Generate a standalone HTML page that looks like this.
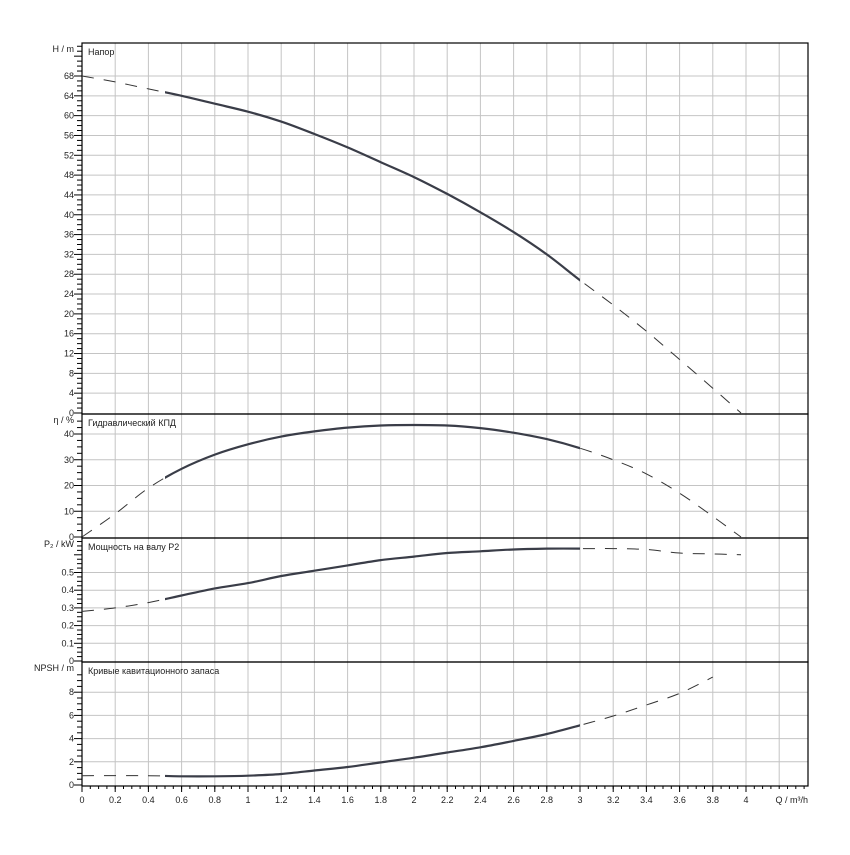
<!DOCTYPE html>
<html><head><meta charset="utf-8"><style>
body{margin:0;background:#fff}
svg{font-family:"Liberation Sans",sans-serif;font-size:9px}
</style></head><body>
<svg id="c" width="850" height="850"></svg>
<script>
const qVals=[0,0.2,0.4,0.6,0.8,1,1.2,1.4,1.6,1.8,2,2.2,2.4,2.6,2.8,3,3.2,3.4,3.6,3.8,3.97];
const headVals=[68,66.8,65.4,64,62.4,60.8,58.8,56.3,53.6,50.6,47.6,44.2,40.5,36.5,32,26.8,21.8,16.5,10.8,5,0];
const effVals=[0,9,19,26.5,32,36,39,41,42.5,43.3,43.5,43.3,42.3,40.5,38,34.5,30,24.5,17,8,0];
const powVals=[0.28,0.3,0.33,0.37,0.41,0.44,0.48,0.51,0.54,0.57,0.59,0.61,0.62,0.63,0.635,0.635,0.635,0.63,0.61,0.605,0.6];
const npshQ=[0,0.4,0.6,0.8,1,1.2,1.4,1.6,1.8,2,2.2,2.4,2.6,2.8,3,3.2,3.4,3.6,3.8];
const npshVals=[0.8,0.8,0.75,0.75,0.8,0.95,1.25,1.55,1.95,2.35,2.8,3.25,3.8,4.4,5.15,5.95,6.9,7.9,9.3];
const xTicks=[0,0.2,0.4,0.6,0.8,1,1.2,1.4,1.6,1.8,2,2.2,2.4,2.6,2.8,3,3.2,3.4,3.6,3.8,4];
const solidFrom=0.5, solidTo=3;
const L=82,R=808,X0=82,XU=166;
const sx=q=>X0+q*XU;
const NS='http://www.w3.org/2000/svg';
const svg=document.getElementById('c');
function mk(t,a,p){const e=document.createElementNS(NS,t);for(const k in a)e.setAttribute(k,a[k]);(p||svg).appendChild(e);return e;}
function smooth(pts){let d='M'+pts[0][0].toFixed(1)+','+pts[0][1].toFixed(1);
 for(let i=0;i<pts.length-1;i++){const p0=pts[Math.max(0,i-1)],p1=pts[i],p2=pts[i+1],p3=pts[Math.min(pts.length-1,i+2)];
  const c1=[p1[0]+(p2[0]-p0[0])/6,p1[1]+(p2[1]-p0[1])/6],c2=[p2[0]-(p3[0]-p1[0])/6,p2[1]-(p3[1]-p1[1])/6];
  d+='C'+c1.map(v=>v.toFixed(1))+' '+c2.map(v=>v.toFixed(1))+' '+p2.map(v=>v.toFixed(1));}
 return d;}
const panels=[
 {top:43,bot:414,y0:413,unit:4.956,step:4,max:74.6,title:'Напор',ylab:'H / m',name:'head',q:qVals,v:headVals,ticks:[0,4,8,12,16,20,24,28,32,36,40,44,48,52,56,60,64,68]},
 {top:414,bot:538,y0:537,unit:2.575,step:10,max:48,title:'Гидравлический КПД',ylab:'η / %',name:'efficiency',q:qVals,v:effVals,ticks:[0,10,20,30,40]},
 {top:538,bot:662,y0:661,unit:177,step:0.1,max:0.69,title:'Мощность на валу P2',ylab:'P₂ / kW',name:'power',q:qVals,v:powVals,ticks:[0,0.1,0.2,0.3,0.4,0.5]},
 {top:662,bot:786,y0:785,unit:11.6,step:2,max:9.5,title:'Кривые кавитационного запаса',ylab:'NPSH / m',name:'npsh',q:npshQ,v:npshVals,ticks:[0,2,4,6,8]}
];
for(let i=1;i*33.2+L<R-1;i++){const l=mk('line',{x1:L+i*33.2,x2:L+i*33.2,y1:43,y2:786,stroke:'#c4c4c4','stroke-width':1});
}
panels.forEach(p=>{
 const sy=v=>p.y0-v*p.unit;
 const g=mk('g',{});
 p.ticks.forEach(t=>{
  if(t>0){const l=mk('line',{x1:L,x2:R,y1:sy(t),y2:sy(t),stroke:'#c4c4c4'},g);}
  const tx=mk('text',{x:74,y:sy(t)+3,'text-anchor':'end',fill:'#222'},g);tx.textContent=t;
  
 });
 for(let v=0;v<=p.max;v+=p.step/4){const y=sy(v);if(y<p.top+1)break;const maj=Math.abs(v/p.step-Math.round(v/p.step))<1e-6;
  mk('line',{x1:maj?74:77,x2:L,y1:y,y2:y,stroke:'#000'},g);}
 const yl=mk('text',{x:74,y:p.top+9,'text-anchor':'end',fill:'#222'},g);yl.textContent=p.ylab;
 
 const tt=mk('text',{x:88,y:p.top+12,fill:'#222'},g);tt.textContent=p.title;
 
 mk('rect',{x:L,y:p.top,width:R-L,height:p.bot-p.top,fill:'none',stroke:'#000','stroke-width':1.2},g);
 const pts=p.q.map((q,i)=>[sx(q),sy(p.v[i])]);
 const pd=smooth(pts);
 const cp=mk('clipPath',{id:'cs'+p.name},g);mk('rect',{x:sx(solidFrom),y:0,width:sx(solidTo)-sx(solidFrom),height:850},cp);
 const dashed=mk('path',{d:pd,fill:'none',stroke:'#333','stroke-width':1,'stroke-dasharray':'12,10'},g);
 
 const solid=mk('path',{d:pd,fill:'none',stroke:'#3a3d48','stroke-width':2.2,'clip-path':'url(#cs'+p.name+')'},g);
 
});
xTicks.forEach(t=>{const x=sx(t);mk('line',{x1:x,x2:x,y1:786,y2:792,stroke:'#000'});
 const tx=mk('text',{x:x,y:803,'text-anchor':'middle',fill:'#222'});tx.textContent=t;
 });
for(let x=L;x<=R;x+=8.3)mk('line',{x1:x,x2:x,y1:786,y2:789,stroke:'#000'});
const xl=mk('text',{x:808,y:803,'text-anchor':'end',fill:'#222'});xl.textContent='Q / m³/h';

</script>
</body></html>
